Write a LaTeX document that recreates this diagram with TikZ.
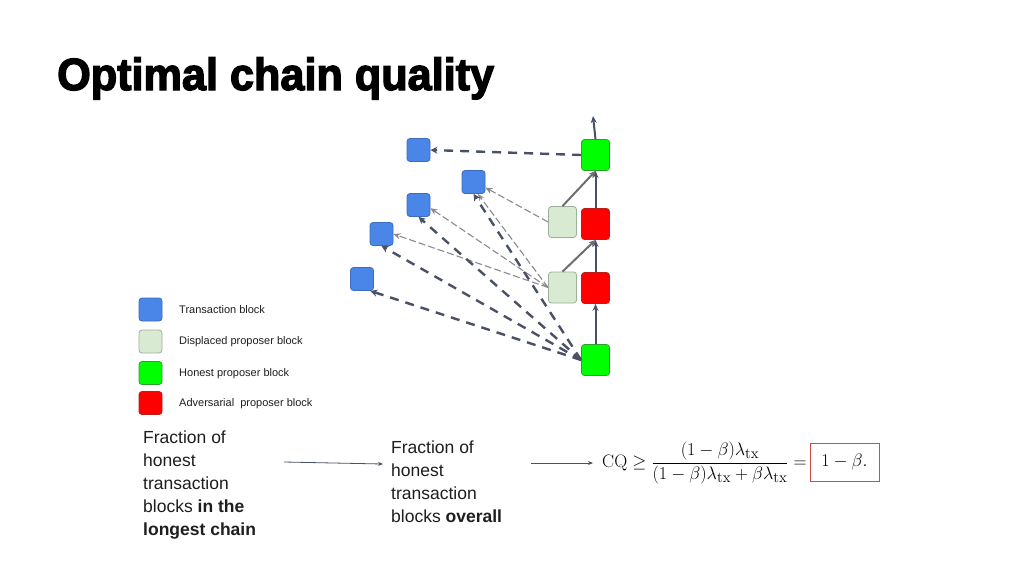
\documentclass[tikz,border=0pt]{standalone}
\usepackage[no-math]{fontspec}
\setmainfont{Liberation Sans}
\newfontfamily\titlefont[BoldFeatures={FakeBold=3}]{Liberation Sans}
\usetikzlibrary{arrows.meta}
\definecolor{txblue}{HTML}{4A86E8}
\definecolor{txblueD}{HTML}{3C6BC0}
\definecolor{dispc}{HTML}{D9EAD3}
\definecolor{dispD}{HTML}{9DB09A}
\definecolor{honc}{HTML}{00FF00}
\definecolor{honD}{HTML}{2E9E2E}
\definecolor{advc}{HTML}{FF0000}
\definecolor{advD}{HTML}{B81E1E}
\definecolor{slate}{HTML}{4A5166}
\definecolor{greyc}{HTML}{6E6E72}
\definecolor{thin}{HTML}{8A8A8E}
\definecolor{boxred}{HTML}{D24A4A}
\definecolor{txt}{HTML}{1E1E1E}
\tikzset{
  blk/.style={draw, rounded corners=3pt, minimum width=28pt, minimum height=31pt, inner sep=0pt, line width=0.8pt},
  sq/.style={blk, minimum width=23pt, minimum height=23pt},
  txb/.style={fill=txblue, draw=txblueD},
  disp/.style={fill=dispc, draw=dispD},
  hon/.style={fill=honc, draw=honD},
  adv/.style={fill=advc, draw=advD},
  chainarr/.style={draw=slate, line width=2pt, -{Stealth[length=7pt,width=6pt]}},
  refarr/.style={draw=greyc, line width=2pt, -{Stealth[length=7pt,width=6pt]}},
  thickd/.style={draw=slate, line width=2.4pt, dash pattern=on 9pt off 7pt, -{Stealth[length=7pt,width=7pt]}},
  thind/.style={draw=thin, line width=1.1pt, dash pattern=on 7pt off 3pt, -{Stealth[length=7pt,width=6pt]}},
  legtext/.style={anchor=west, font=\fontsize{11}{13}\selectfont, text=txt, inner sep=0pt},
  bodytext/.style={anchor=north west, align=left, inner sep=0pt, text=txt, font=\fontsize{17.5}{23}\selectfont},
  plainarr/.style={draw=slate, line width=0.8pt, -{Stealth[length=5pt,width=4pt]}},
}
\begin{document}
\begin{tikzpicture}[x=1pt,y=-1pt]
\useasboundingbox (0,0) rectangle (1024,576);
\fill[white] (0,0) rectangle (1024,576);
% title
\node[anchor=base west, inner sep=0pt] (title) at (57,90)
  {\scalebox{0.96}[1]{\titlefont\bfseries\fontsize{45}{54}\selectfont Optimal chain quality}};
% chain blocks
\node[blk, hon] (g1) at (595.5,155) {};
\node[blk, adv] (r1) at (595.5,224) {};
\node[blk, adv] (r2) at (595.5,288) {};
\node[blk, hon] (g0) at (595.5,360) {};
\node[blk, disp] (d1) at (562.5,222) {};
\node[blk, disp] (d2) at (562.5,287.5) {};
% transaction blocks
\node[sq, txb] (b1) at (418.5,150) {};
\node[sq, txb] (b2) at (473.5,182) {};
\node[sq, txb] (b3) at (418.5,205) {};
\node[sq, txb] (b4) at (381.5,234) {};
\node[sq, txb] (b5) at (362,279) {};
\coordinate (tip) at (593,116);
% chain arrows
\draw[chainarr] (g0.north) -- (r2.south);
\draw[chainarr] (r2.north) -- (r1.south);
\draw[chainarr] (r1.north) -- (g1.south);
\draw[chainarr] (g1.north) -- (tip);
\draw[refarr] (d2.north) -- (r1.south);
\draw[refarr] (d1.north) -- (g1.south);
% references to transaction blocks
\draw[thickd] (g1.west) -- (b1.east);
\draw[thind] (d1.west) -- (b2.-25);
\draw[thind] (d2.west) -- (b2.-70);
\draw[thind] (d2.west) -- (b3.-15);
\draw[thind] (d2.west) -- (b4.east);
\draw[thickd] (g0.west) -- (b2.south);
\draw[thickd] (g0.west) -- (b3.south);
\draw[thickd] (g0.west) -- (b4.south);
\draw[thickd] (g0.west) -- (b5.-55);
% legend
\node[sq, txb] (l1) at (150.5,309.5) {};
\node[sq, disp] (l2) at (150.5,341.5) {};
\node[sq, hon] (l3) at (150.5,373) {};
\node[sq, adv] (l4) at (150.5,403) {};
\node[legtext] (lt1) at (179,310) {Transaction block};
\node[legtext] (lt2) at (179,342) {Displaced proposer block};
\node[legtext] (lt3) at (179,374) {Honest proposer block};
\node[legtext] (lt4) at (179,404) {Adversarial\ \ proposer block};
% bottom texts
\node[bodytext] (f1) at (143,431) {Fraction of\\honest\\transaction\\blocks \textbf{in the}\\\textbf{longest chain}};
\node[bodytext] (f2) at (391,441) {Fraction of\\honest\\transaction\\blocks \textbf{overall}};
\coordinate (a1s) at (284,462);
\coordinate (a1e) at (383,464);
\coordinate (a2s) at (531,463);
\coordinate (a2e) at (593,463);
\draw[plainarr] (a1s) -- (a1e);
\draw[plainarr] (a2s) -- (a2e);
% formula
\node[anchor=west, inner sep=0pt, scale=1.045] (cq) at (602,463)
  {\fontsize{19}{23}\selectfont $\displaystyle \mathrm{CQ} \geq \frac{(1-\beta)\lambda_{\mathrm{tx}}}{(1-\beta)\lambda_{\mathrm{tx}}+\beta\lambda_{\mathrm{tx}}} =$};
\node[draw=boxred, line width=1pt, minimum width=69pt, minimum height=38pt, inner sep=0pt] (res) at (844.5,462)
  {\scalebox{1.045}{\fontsize{19}{23}\selectfont $1-\beta.$}};
\end{tikzpicture}
\end{document}
